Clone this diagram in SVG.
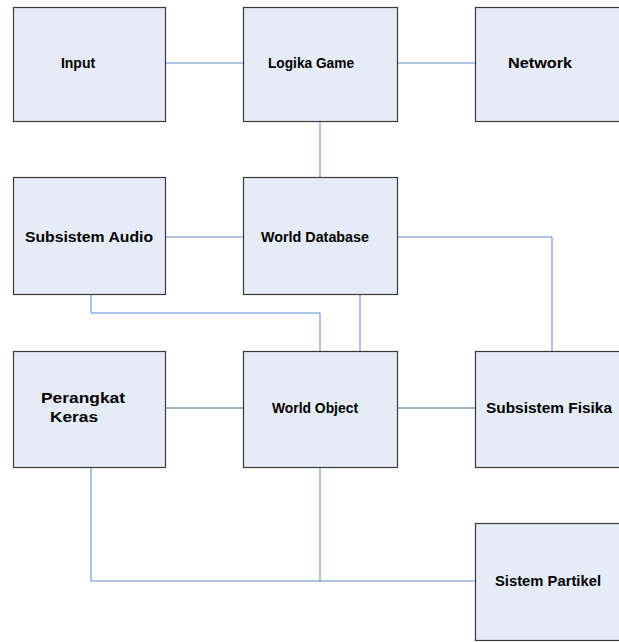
<svg xmlns="http://www.w3.org/2000/svg" width="619" height="642" viewBox="0 0 619 642">
<style>
.box{fill:#e6ecf7;stroke:#3a3a3a;stroke-width:1.2}
.lbl{font-family:"Liberation Sans",Arial,sans-serif;font-size:14px;font-weight:bold;fill:#000;text-anchor:middle;dominant-baseline:central}
.c{fill:none;stroke:#5b8bd0;stroke-width:1}
.d{fill:none;stroke:#4a6a9a;stroke-width:1}
</style>
<rect width="619" height="642" fill="#fff"/>
<g id="connectors">
<path class="c" d="M166 63H243"/>
<path class="c" d="M397 63H475"/>
<path class="c" d="M320 121V177"/>
<path class="c" d="M166 237H243"/>
<path class="c" d="M397 237H552V351"/>
<path class="c" d="M91 294V313H320V351"/>
<path class="c" d="M360 294V351"/>
<path class="d" d="M166 408H243"/>
<path class="d" d="M397 408H475"/>
<path class="c" d="M91 467V581H475"/>
<path class="c" d="M320 467V581"/>
</g>
<g id="input"><rect class="box" x="13.5" y="7.5" width="152" height="114"/><text class="lbl" x="78" y="63">Input</text></g>
<g id="logika"><rect class="box" x="243.5" y="7.5" width="154" height="114"/><text class="lbl" x="311" y="63" textLength="86" lengthAdjust="spacingAndGlyphs">Logika Game</text></g>
<g id="network"><rect class="box" x="475.5" y="7.5" width="150" height="114"/><text class="lbl" x="540" y="63" textLength="64" lengthAdjust="spacingAndGlyphs">Network</text></g>
<g id="audio"><rect class="box" x="13.5" y="177.5" width="152" height="117"/><text class="lbl" x="89" y="237" textLength="128" lengthAdjust="spacingAndGlyphs">Subsistem Audio</text></g>
<g id="worlddb"><rect class="box" x="243.5" y="177.5" width="154" height="117"/><text class="lbl" x="315" y="237" textLength="108" lengthAdjust="spacingAndGlyphs">World Database</text></g>
<g id="perangkat"><rect class="box" x="13.5" y="351.5" width="152" height="116"/><text class="lbl" x="83" y="398" textLength="84" lengthAdjust="spacingAndGlyphs">Perangkat</text><text class="lbl" x="74" y="417" textLength="48" lengthAdjust="spacingAndGlyphs">Keras</text></g>
<g id="worldobj"><rect class="box" x="243.5" y="351.5" width="154" height="116"/><text class="lbl" x="315" y="408" textLength="86" lengthAdjust="spacingAndGlyphs">World Object</text></g>
<g id="fisika"><rect class="box" x="475.5" y="351.5" width="150" height="116"/><text class="lbl" x="549" y="408" textLength="126" lengthAdjust="spacingAndGlyphs">Subsistem Fisika</text></g>
<g id="partikel"><rect class="box" x="475.5" y="523.5" width="150" height="117"/><text class="lbl" x="548" y="581" textLength="106" lengthAdjust="spacingAndGlyphs">Sistem Partikel</text></g>
</svg>
